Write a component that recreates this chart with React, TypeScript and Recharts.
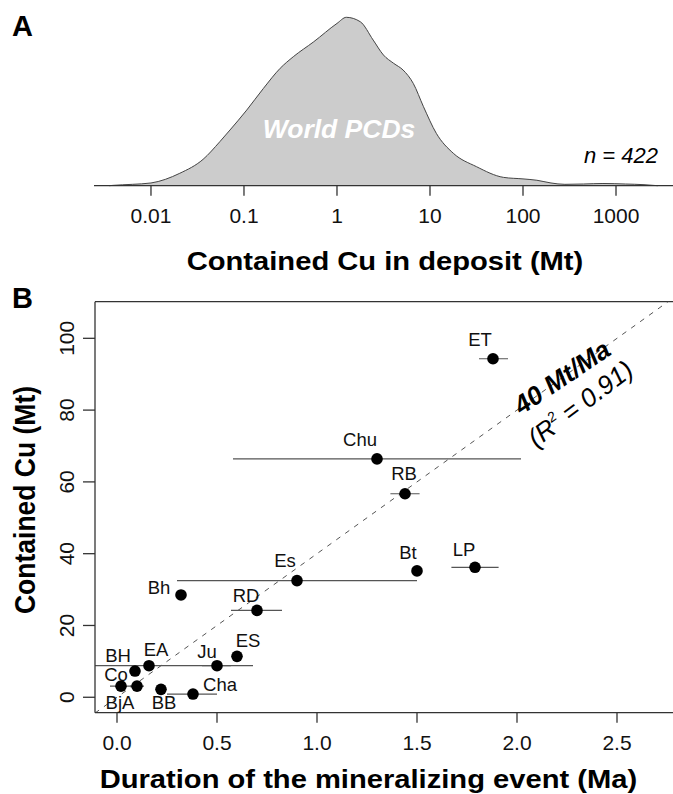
import React from 'react';
import { AreaChart, Area, XAxis, YAxis, ScatterChart, Scatter, ReferenceLine } from 'recharts';

// Panel A: density of contained Cu in world porphyry Cu deposits (log x axis)
const cuMt = [
  0.00355, 0.0039, 0.0063, 0.01, 0.0204, 0.0363, 0.055, 0.0708, 0.107, 0.162, 0.245, 0.339,
  0.562, 1, 1.26, 1.78, 2.45, 3.16, 4.07, 5.13, 6.61, 8.51, 11.7, 17.8, 31.6, 61.7, 100,
  141, 200, 282, 447, 724, 1260, 2000, 2820,
];
const cuDensity = [
  0, 0.002, 0.008, 0.016, 0.073, 0.155, 0.259, 0.328, 0.445, 0.573, 0.691, 0.759,
  0.847, 0.955, 0.991, 0.965, 0.857, 0.769, 0.72, 0.681, 0.602, 0.465, 0.308, 0.191, 0.112, 0.049, 0.04,
  0.032, 0.016, 0.008, 0.01, 0.013, 0.01, 0.006, 0,
];
const cuTicks = [0.01, 0.1, 1, 10, 100, 1000];
const cuTickLabels = ['0.01', '0.1', '1', '10', '100', '1000'];

// Panel B: contained Cu vs duration of the mineralizing event
const deposits = ['ET', 'Chu', 'RB', 'Bt', 'LP', 'Es', 'Bh', 'RD', 'ES', 'Ju', 'EA', 'BH', 'Co', 'BjA', 'BB', 'Cha'];
const durationMa = [1.88, 1.3, 1.44, 1.5, 1.79, 0.9, 0.32, 0.7, 0.6, 0.5, 0.16, 0.09, 0.1, 0.02, 0.22, 0.38];
const containedCu = [94.3, 66.4, 56.7, 35.2, 36.2, 32.5, 28.5, 24.2, 11.4, 8.8, 8.8, 7.3, 3.1, 3.1, 2.2, 0.9];
const durationLow = [1.81, 0.58, 1.367, null, 1.672, 0.3, null, 0.57, null, 0.425, -0.36, null, 0.065, -0.035, null, 0.25];
const durationHigh = [1.955, 2.02, 1.513, null, 1.908, 1.5, null, 0.825, null, 0.57, 0.68, null, 0.135, 0.075, null, 0.5];
const durTicks = [0, 0.5, 1, 1.5, 2, 2.5];
const durTickLabels = ['0.0', '0.5', '1.0', '1.5', '2.0', '2.5'];
const cuAxisTicks = [0, 20, 40, 60, 80, 100];
const fitSlope = 40;
const fitR2 = '0.91';

// label placement around each point (px, relative to point centre)
const labelOffset: Record<string, [number, number]> = {
  ET: [-13, -19], Chu: [-17, -20], RB: [-1, -20], Bt: [-9, -19], LP: [-11, -18],
  Es: [-12, -20], Bh: [-22, -8], RD: [-11, -15], ES: [11, -16], Ju: [-10, -14],
  EA: [7, -16], BH: [-17, -16], Co: [-21, -12], BjA: [-1, 16], BB: [3, 13], Cha: [27, -10],
};

const FONT = '"Liberation Sans", Arial, Helvetica, sans-serif';
const AXIS = '#333';

const xMinB = -0.11;
const xMaxB = 2.78;
const yMinB = -4.3;
const yMaxB = 110.2;

const densityData = cuMt.map((x, i) => ({ x, d: cuDensity[i] }));
const pointData = deposits.map((name, i) => ({ name, x: durationMa[i], y: containedCu[i] }));

const PointShape = (props: any) => {
  const { cx, cy, payload } = props;
  const [dx, dy] = labelOffset[payload.name] || [0, -16];
  return (
    <g>
      <circle cx={cx} cy={cy} r={5.8} fill="#000" />
      <text x={cx + dx} y={cy + dy + 6.6} textAnchor="middle" fontSize={18.5} fill="#111" fontFamily={FONT}>
        {payload.name}
      </text>
    </g>
  );
};

const YTick = (props: any) => {
  const { x, y, payload } = props;
  return (
    <text x={x} y={y} transform={`rotate(-90, ${x}, ${y})`} textAnchor="middle" fontSize={21} fill="#111" fontFamily={FONT}>
      {payload.value}
    </text>
  );
};

const xTitle = (text: string, shift: number, fromBottom: number) => (p: any) => {
  const vb = p.viewBox;
  const cx = vb.x + vb.width / 2 + shift;
  const by = vb.y + vb.height - fromBottom;
  return (
    <text transform={`translate(${cx}, ${by}) scale(1.1, 1)`} textAnchor="middle" fontSize={26.5} fontWeight="bold" fill="#000" fontFamily={FONT}>
      {text}
    </text>
  );
};

const yTitle = () => (
  <text transform="translate(34.5, 220) rotate(-90) scale(1, 1.1)" textAnchor="middle" fontSize={26.5} fontWeight="bold" fill="#000" fontFamily={FONT}>
    Contained Cu (Mt)
  </text>
);

export default function App() {
  return (
    <div style={{ position: 'absolute', left: 0, top: 0, width: 673, height: 794, background: '#fff', fontFamily: FONT }}>
      <div style={{ position: 'absolute', left: 0, top: 0 }}>
        <AreaChart width={673} height={290} data={densityData} margin={{ top: 10, right: 0, bottom: 0, left: 94 }}>
          <XAxis
            dataKey="x"
            type="number"
            scale="log"
            domain={[0.00244, 4100]}
            allowDataOverflow
            ticks={cuTicks}
            tickFormatter={(v: number) => cuTickLabels[cuTicks.indexOf(v)]}
            tickSize={10}
            tickMargin={12}
            height={104.3}
            stroke={AXIS}
            strokeWidth={1.3}
            tick={{ fontSize: 21, fill: '#111' }}
            label={{ content: xTitle('Contained Cu in deposit (Mt)', 1.5, 19.6) }}
          />
          <YAxis hide domain={[0, 1.034]} />
          <Area
            type="monotone"
            dataKey="d"
            fill="#cccccc"
            fillOpacity={1}
            stroke="#444"
            strokeWidth={1}
            isAnimationActive={false}
          />
        </AreaChart>
      </div>
      <div style={{ position: 'absolute', left: 0, top: 280 }}>
        <ScatterChart width={673} height={514} margin={{ top: 21.7, right: 0, bottom: 0, left: 0 }}>
          <XAxis
            dataKey="x"
            type="number"
            domain={[xMinB, xMaxB]}
            allowDataOverflow
            ticks={durTicks}
            tickFormatter={(v: number) => durTickLabels[durTicks.indexOf(v)]}
            tickSize={10}
            tickMargin={12}
            height={81.3}
            stroke={AXIS}
            strokeWidth={1.3}
            tick={{ fontSize: 21, fill: '#111' }}
            label={{ content: xTitle('Duration of the mineralizing event (Ma)', -15.6, 6.5) }}
          />
          <YAxis
            dataKey="y"
            type="number"
            domain={[yMinB, yMaxB]}
            allowDataOverflow
            ticks={cuAxisTicks}
            tickSize={12}
            tickMargin={8.5}
            width={95}
            stroke={AXIS}
            strokeWidth={1.3}
            tick={<YTick />}
            label={{ content: yTitle }}
          />
          <ReferenceLine y={yMaxB} stroke={AXIS} strokeWidth={1.3} ifOverflow="visible" />
          <ReferenceLine
            segment={[{ x: xMinB, y: xMinB * fitSlope }, { x: xMaxB, y: xMaxB * fitSlope }]}
            stroke="#555"
            strokeWidth={1}
            strokeDasharray="5 6"
            ifOverflow="hidden"
          />
          {deposits.map((name, i) =>
            durationLow[i] == null ? null : (
              <ReferenceLine
                key={name}
                segment={[{ x: durationLow[i] as number, y: containedCu[i] }, { x: durationHigh[i] as number, y: containedCu[i] }]}
                stroke="#555"
                strokeWidth={1.2}
                ifOverflow="hidden"
              />
            )
          )}
          <Scatter data={pointData} shape={PointShape} isAnimationActive={false} />
        </ScatterChart>
      </div>
      <svg width={673} height={794} style={{ position: 'absolute', left: 0, top: 0, pointerEvents: 'none' }} fontFamily={FONT}>
        <text x={12} y={36} fontSize={29} fontWeight="bold" fill="#000">A</text>
        <text x={12} y={308} fontSize={29} fontWeight="bold" fill="#000">B</text>
        <text x={339} y={138} textAnchor="middle" fontSize={26.5} fontWeight="bold" fontStyle="italic" fill="#fff">
          World PCDs
        </text>
        <text x={658} y={163} textAnchor="end" fontSize={22} fontStyle="italic" fill="#000">
          n = 422
        </text>
        <g transform="translate(561.7, 376.7) rotate(-34)">
          <text x={0} y={9.5} textAnchor="middle" fontSize={26} fontWeight="bold" fontStyle="italic" fill="#000">
            {fitSlope} Mt/Ma
          </text>
        </g>
        <g transform="translate(580, 403.3) rotate(-37)">
          <text x={0} y={9.5} textAnchor="middle" fontSize={26} fontStyle="italic" fill="#000">
            <tspan>(R</tspan>
            <tspan fontSize={14} dy={-11}>2</tspan>
            <tspan dy={11}> = {fitR2})</tspan>
          </text>
        </g>
      </svg>
    </div>
  );
}
